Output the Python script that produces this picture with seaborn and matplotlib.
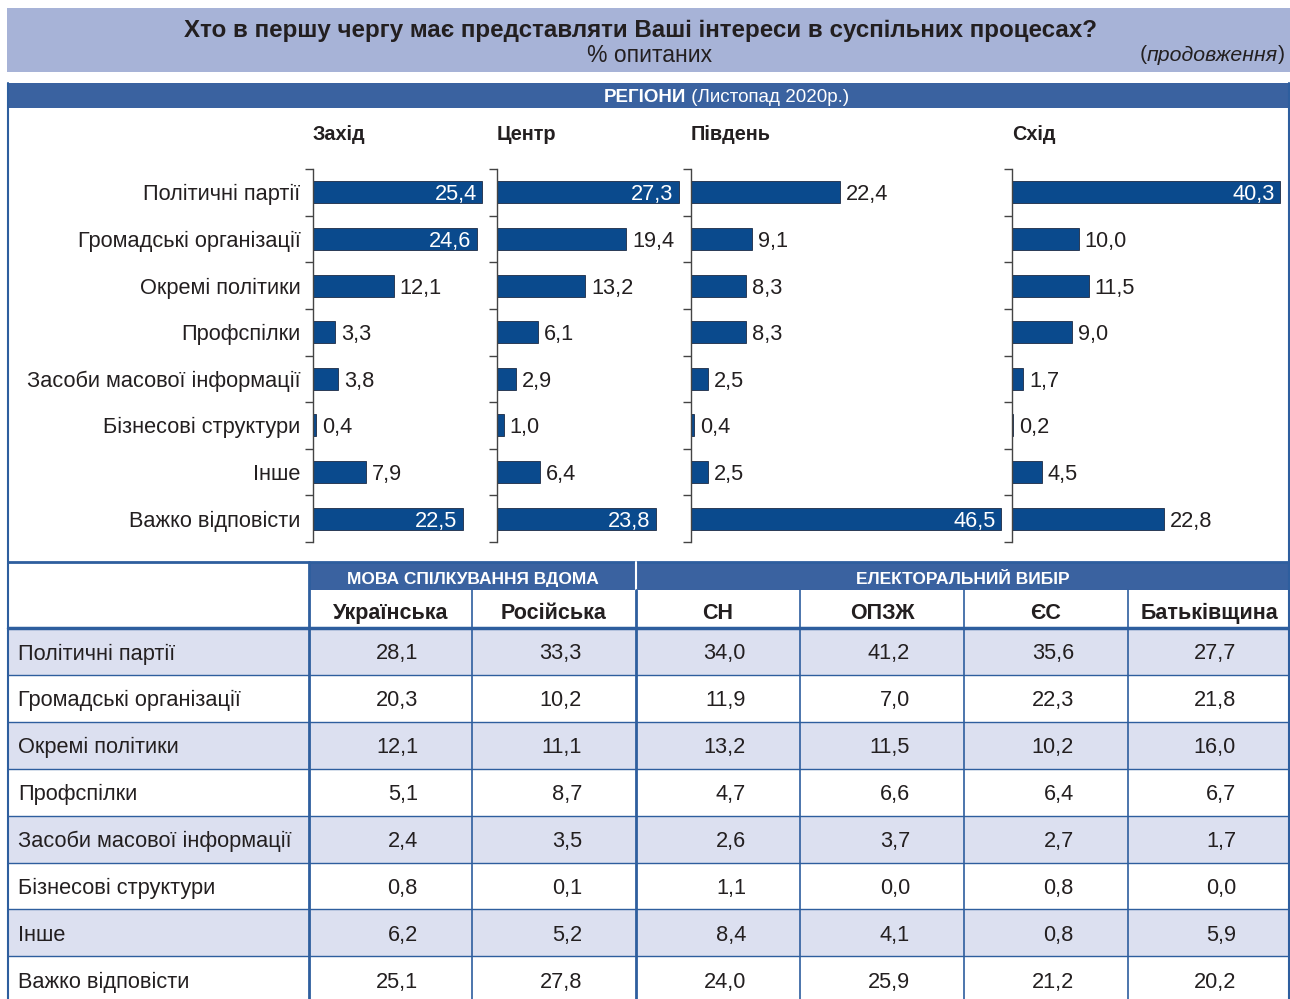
import numpy as np
import pandas as pd
import matplotlib.pyplot as plt
import seaborn as sns
from matplotlib.patches import Rectangle

sns.set_theme(style="white")
plt.rcParams["font.family"] = ["Liberation Sans", "DejaVu Sans"]

# dados das barras (regioes)
categorias = [
    "Політичні партії",
    "Громадські організації",
    "Окремі політики",
    "Профспілки",
    "Засоби масової інформації",
    "Бізнесові структури",
    "Інше",
    "Важко відповісти",
]
regioes = ["Захід", "Центр", "Південь", "Схід"]
zakhid = [25.4, 24.6, 12.1, 3.3, 3.8, 0.4, 7.9, 22.5]
tsentr = [27.3, 19.4, 13.2, 6.1, 2.9, 1.0, 6.4, 23.8]
pivden = [22.4, 9.1, 8.3, 8.3, 2.5, 0.4, 2.5, 46.5]
skhid = [40.3, 10.0, 11.5, 9.0, 1.7, 0.2, 4.5, 22.8]

# dados da tabela
grupos = ["МОВА СПІЛКУВАННЯ ВДОМА", "ЕЛЕКТОРАЛЬНИЙ ВИБІР"]
colunas = ["Українська", "Російська", "СН", "ОПЗЖ", "ЄС", "Батьківщина"]
ukrainska = [28.1, 20.3, 12.1, 5.1, 2.4, 0.8, 6.2, 25.1]
rosiiska = [33.3, 10.2, 11.1, 8.7, 3.5, 0.1, 5.2, 27.8]
sn = [34.0, 11.9, 13.2, 4.7, 2.6, 1.1, 8.4, 24.0]
opzzh = [41.2, 7.0, 11.5, 6.6, 3.7, 0.0, 4.1, 25.9]
yes = [35.6, 22.3, 10.2, 6.4, 2.7, 0.8, 0.8, 21.2]
batkivshchyna = [27.7, 21.8, 16.0, 6.7, 1.7, 0.0, 5.9, 20.2]

df_reg = pd.DataFrame({"cat": categorias, "Захід": zakhid, "Центр": tsentr,
                       "Південь": pivden, "Схід": skhid})
df_tab = pd.DataFrame({"cat": categorias, "Українська": ukrainska, "Російська": rosiiska,
                       "СН": sn, "ОПЗЖ": opzzh, "ЄС": yes, "Батьківщина": batkivshchyna})

AZUL_BARRA = "#0A4A8D"
AZUL_FAIXA = "#3A62A0"
AZUL_LINHA = "#2E5E9E"
CINZA_TOPO = "#A7B3D7"
LILAS = "#DCE0F0"
TEXTO = "#231F20"
FS = 15.7  # tamanho base do texto


def fmt(v):
    return f"{v:.1f}".replace(".", ",")


W, H = 1290, 999
fig = plt.figure(figsize=(12.9, 9.99), dpi=100)
bg = fig.add_axes([0, 0, 1, 1], zorder=0)
bg.set_xlim(0, W)
bg.set_ylim(H, 0)
bg.axis("off")

# cabecalho cinza
bg.add_patch(Rectangle((7, 8), W - 7, 64, color=CINZA_TOPO, lw=0))
bg.text(640, 28, "Хто в першу чергу має представляти Ваші інтереси в суспільних процесах?",
        ha="center", va="center_baseline", fontsize=17.4, fontweight="bold", color=TEXTO)
bg.text(650, 53, "% опитаних", ha="center", va="center_baseline", fontsize=16.5, color=TEXTO)
t_fecha = bg.text(1285, 53, ")", ha="right", va="center_baseline", fontsize=15.3, color=TEXTO)
t_ital = bg.annotate("продовження", xy=(0, 0.5), xycoords=t_fecha, ha="right", va="center",
                     fontsize=15.3, style="italic", color=TEXTO)
bg.annotate("(", xy=(0, 0.5), xycoords=t_ital, ha="right", va="center", fontsize=15.3,
            color=TEXTO)

# faixa azul regioes
bg.add_patch(Rectangle((8, 83), W - 8, 25, color=AZUL_FAIXA, lw=0))
t_reg = bg.text(686, 96, "РЕГІОНИ", ha="right", va="center_baseline", fontsize=13.5,
                fontweight="bold", color="white")
bg.annotate(" (Листопад 2020р.)", xy=(1, 0.5), xycoords=t_reg, ha="left", va="center",
            fontsize=13.5, color="white")

# bordas
bg.plot([8, 8], [83, H], color=AZUL_LINHA, lw=1.5)
bg.plot([W - 1, W - 1], [83, H], color=AZUL_LINHA, lw=1.5)

# paineis de barras
px_unidade = 6.66
paineis = [(313, 490), (497, 685), (691, 1006), (1012, 1286)]
y_top, y_bot = 169, 542
for i, (reg, (x0, x1)) in enumerate(zip(regioes, paineis)):
    ax = fig.add_axes([x0 / W, 1 - y_bot / H, (x1 - x0) / W, (y_bot - y_top) / H], zorder=2)
    ax.patch.set_alpha(0)
    xmax = (x1 - x0) / px_unidade
    sns.barplot(data=df_reg, x=reg, y="cat", orient="h", color=AZUL_BARRA, saturation=1,
                width=0.47, edgecolor="#1d2b45", linewidth=0.6, ax=ax)
    ax.set_xlim(0, xmax)
    ax.set_ylim(7.5, -0.5)
    ax.set_xticks([])
    ax.set_xlabel("")
    ax.set_ylabel("")
    ax.set_yticks(np.arange(-0.5, 8.0, 1.0))
    ax.set_yticklabels([])
    ax.set_yticks(np.arange(len(categorias)), minor=True)
    ax.set_yticklabels(categorias if i == 0 else [""] * len(categorias), minor=True)
    ax.tick_params(axis="y", which="major", left=True, length=6, width=1, color="#444444")
    ax.tick_params(axis="y", which="minor", left=True, length=0, pad=9, labelsize=FS,
                   labelcolor=TEXTO)
    for s in ["top", "right", "bottom"]:
        ax.spines[s].set_visible(False)
    ax.spines["left"].set_color("#444444")
    ax.spines["left"].set_linewidth(1)
    for j, v in enumerate(df_reg[reg]):
        if v + 6.5 > xmax:
            ax.text(v - 0.8, j, fmt(v), ha="right", va="center_baseline", color="white",
                    fontsize=FS)
        else:
            ax.text(v + 0.9, j, fmt(v), ha="left", va="center_baseline", color=TEXTO,
                    fontsize=FS)
    bg.text(x0, 132, reg, ha="left", va="center_baseline", fontsize=14.3, fontweight="bold",
            color=TEXTO)

# tabela
limites = [309, 472, 636, 800, 964, 1128, W]
y_tab = 562
y_h1 = 590
y_h2 = 628
alt_linha = 46.9

bg.add_patch(Rectangle((309, y_tab), W - 309, y_h1 - y_tab, color=AZUL_FAIXA, lw=0))
for k in range(len(categorias)):
    y0 = y_h2 + k * alt_linha
    if k % 2 == 0:
        bg.add_patch(Rectangle((8, y0), W - 8, alt_linha, color=LILAS, lw=0))
    yc = y0 + alt_linha / 2
    bg.text(18, yc, categorias[k], ha="left", va="center_baseline", fontsize=FS, color=TEXTO)
    for c, col in enumerate(colunas):
        bg.text(limites[c + 1] - 54, yc, fmt(df_tab[col][k]), ha="right",
                va="center_baseline", fontsize=FS, color=TEXTO)
    if k > 0:
        bg.plot([8, W], [y0, y0], color=AZUL_LINHA, lw=1)

bg.text((309 + 636) / 2, 578, grupos[0], ha="center", va="center_baseline", fontsize=12.5,
        fontweight="bold", color="white")
bg.text((636 + W) / 2, 578, grupos[1], ha="center", va="center_baseline", fontsize=12.5,
        fontweight="bold", color="white")
for c, col in enumerate(colunas):
    bg.text((limites[c] + limites[c + 1]) / 2, 611, col, ha="center", va="center_baseline",
            fontsize=15.5, fontweight="bold", color=TEXTO)

bg.plot([8, W], [y_tab, y_tab], color=AZUL_LINHA, lw=2)
bg.plot([8, W], [y_h2, y_h2], color=AZUL_LINHA, lw=2.5)
bg.plot([309, 309], [y_tab, H], color=AZUL_LINHA, lw=2)
bg.plot([636, 636], [y_tab, y_h1], color="white", lw=1.5)
bg.plot([636, 636], [y_h1, H], color=AZUL_LINHA, lw=2)
for xl in [472, 800, 964, 1128]:
    bg.plot([xl, xl], [y_h1, H], color=AZUL_LINHA, lw=1.2)

fig.savefig("out.png", dpi=100)
